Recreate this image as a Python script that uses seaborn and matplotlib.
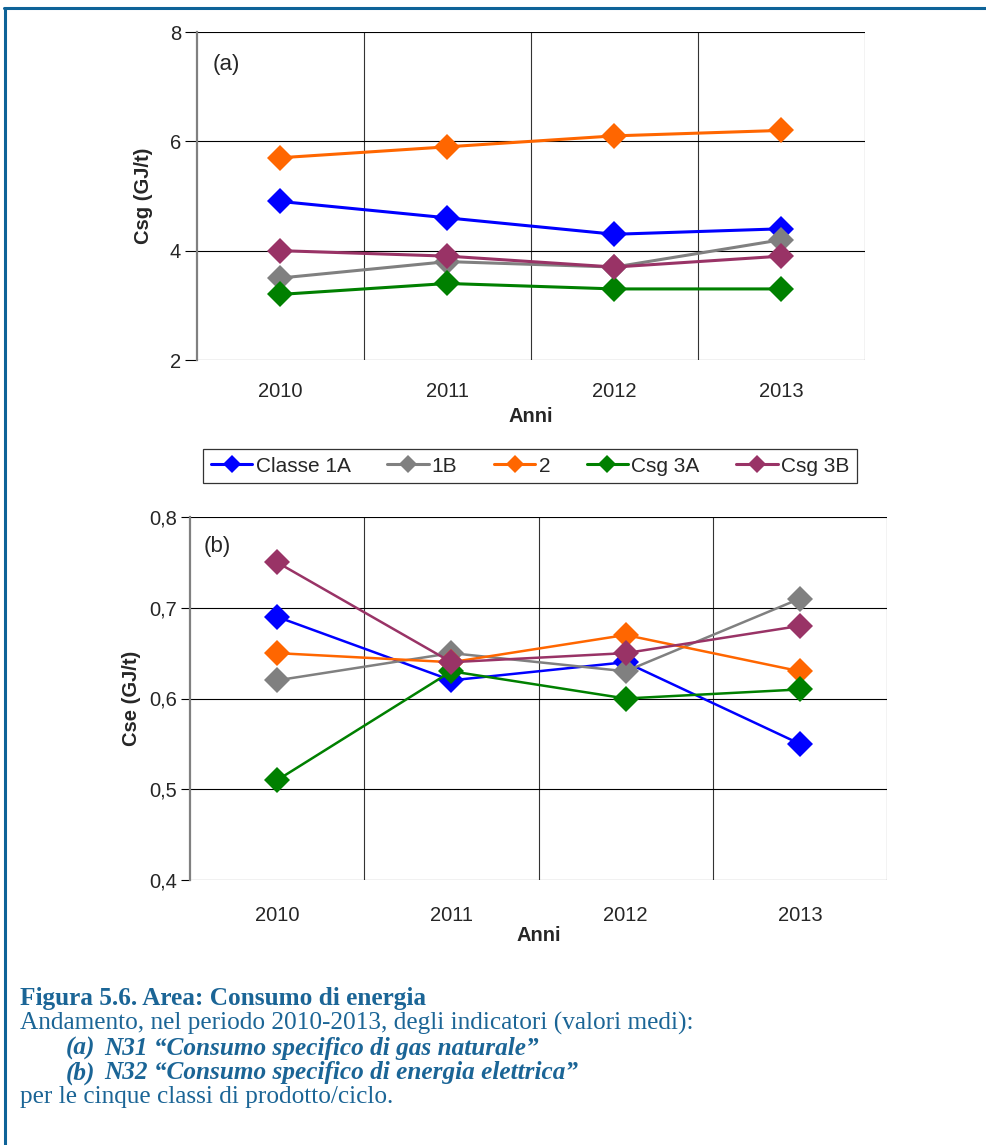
import matplotlib
matplotlib.use("Agg")
import matplotlib.pyplot as plt
from matplotlib.lines import Line2D
from matplotlib.ticker import FixedLocator, FuncFormatter
import seaborn as sns
import pandas as pd

# --- data -------------------------------------------------------------
anni = ["2010", "2011", "2012", "2013"]
classi = ["Classe 1A", "1B", "2", "Csg 3A", "Csg 3B"]

csg_1a = [4.9, 4.6, 4.3, 4.4]
csg_1b = [3.5, 3.8, 3.7, 4.2]
csg_2 = [5.7, 5.9, 6.1, 6.2]
csg_3a = [3.2, 3.4, 3.3, 3.3]
csg_3b = [4.0, 3.9, 3.7, 3.9]

cse_1a = [0.69, 0.62, 0.64, 0.55]
cse_1b = [0.62, 0.65, 0.63, 0.71]
cse_2 = [0.65, 0.64, 0.67, 0.63]
cse_3a = [0.51, 0.63, 0.60, 0.61]
cse_3b = [0.75, 0.64, 0.65, 0.68]

colori = ["#0000FF", "#808080", "#FF6600", "#008000", "#993366"]


def long_table(series, name):
    rows = []
    for classe, vals in zip(classi, series):
        for anno, v in zip(anni, vals):
            rows.append({"Anno": anno, "Classe": classe, name: v})
    return pd.DataFrame(rows)


df_csg = long_table([csg_1a, csg_1b, csg_2, csg_3a, csg_3b], "Csg")
df_cse = long_table([cse_1a, cse_1b, cse_2, cse_3a, cse_3b], "Cse")

sns.set_style("white")
plt.rcParams["font.family"] = ["Liberation Sans", "DejaVu Sans"]

W, H = 987, 1145
fig = plt.figure(figsize=(W / 100, H / 100), dpi=100)


def axes_px(left, top, right, bottom):
    return fig.add_axes([left / W, 1 - bottom / H, (right - left) / W, (bottom - top) / H])


ax1 = axes_px(197, 32, 865, 360)
ax2 = axes_px(190, 517, 887, 880)

palette = dict(zip(classi, colori))
FS = 14.5


def draw(ax, df, ycol, lw, ms):
    sns.lineplot(data=df, x="Anno", y=ycol, hue="Classe", hue_order=classi,
                 palette=palette, marker="D", markersize=ms, linewidth=lw,
                 markeredgewidth=0, sort=False, legend=True, ax=ax)
    for ln in ax.lines:
        ln.set_markeredgecolor(ln.get_color())
        ln.set_clip_on(False)
    ax.set_xlim(-0.5, 3.5)
    ax.xaxis.set_minor_locator(FixedLocator([0.5, 1.5, 2.5, 3.5]))
    ax.grid(True, axis="y", which="major", color="black", linewidth=0.8)
    ax.grid(True, axis="x", which="minor", color="#333333", linewidth=0.8)
    ax.grid(False, axis="x", which="major")
    ax.set_axisbelow(True)
    for s in ["top", "right", "bottom"]:
        ax.spines[s].set_visible(False)
    ax.spines["left"].set_color("#808080")
    ax.spines["left"].set_linewidth(1.6)
    ax.tick_params(axis="y", which="major", left=True, length=8.5, width=0.8,
                   color="black", labelsize=FS, pad=3)
    ax.tick_params(axis="x", which="both", bottom=False, labelsize=FS, pad=12)
    ax.set_xlabel("Anni", fontsize=FS, fontweight="bold", labelpad=6)
    ax.get_legend().remove()


draw(ax1, df_csg, "Csg", 2.2, 13)
ax1.set_ylim(2, 8)
ax1.set_yticks([2, 4, 6, 8])
ax1.set_ylabel("Csg (GJ/t)", fontsize=FS, fontweight="bold", labelpad=12)
ax1.text(0.024, 0.90, "(a)", transform=ax1.transAxes, fontsize=16,
         ha="left", va="center")
ax1.xaxis.labelpad = 5

draw(ax2, df_cse, "Cse", 1.8, 13)
ax2.set_ylim(0.4, 0.8)
ax2.set_yticks([0.4, 0.5, 0.6, 0.7, 0.8])
ax2.yaxis.set_major_formatter(FuncFormatter(lambda v, p: f"{v:.1f}".replace(".", ",")))
ax2.tick_params(axis="y", length=6.5)
ax2.set_ylabel("Cse (GJ/t)", fontsize=FS, fontweight="bold", labelpad=6)
ax2.text(0.02, 0.92, "(b)", transform=ax2.transAxes, fontsize=16,
         ha="left", va="center")
ax2.tick_params(axis="x", pad=15)
ax2.xaxis.labelpad = 1

# shared legend between the two panels
handles = [Line2D([0], [0], color=c, marker="D", markersize=9, linewidth=2.2,
                  markeredgewidth=0) for c in colori]
leg = fig.legend(handles, classi, loc="center", bbox_to_anchor=(530 / W, 1 - 466 / H),
                 ncol=5, fontsize=15, frameon=True, fancybox=False,
                 handlelength=2.0, handletextpad=0.15, columnspacing=1.75,
                 borderpad=0.35, borderaxespad=0)
leg.get_frame().set_edgecolor("black")
leg.get_frame().set_linewidth(0.9)

# page frame
frame_col = "#0E6398"
fig.add_artist(Line2D([4 / W, 1], [1 - 8 / H, 1 - 8 / H], color=frame_col,
                      linewidth=2.2, transform=fig.transFigure))
fig.add_artist(Line2D([5 / W, 5 / W], [1 - 8 / H, 0], color=frame_col,
                      linewidth=2.2, transform=fig.transFigure))

# caption
cap_col = "#1B6596"
serif = ["Liberation Serif", "DejaVu Serif"]
fs = 18.2
fig.text(20 / W, 1 - 998 / H, "Figura 5.6. Area: Consumo di energia", color=cap_col,
         fontsize=fs, fontweight="bold", family=serif, va="center")
fig.text(20 / W, 1 - 1023 / H,
         "Andamento, nel periodo 2010-2013, degli indicatori (valori medi):",
         color=cap_col, fontsize=fs, family=serif, va="center")
fig.text(66 / W, 1 - 1048 / H, "(a)", color=cap_col, fontsize=fs,
         fontweight="bold", fontstyle="italic", family=serif, va="center")
fig.text(104 / W, 1 - 1048 / H, "N31 \u201cConsumo specifico di gas naturale\u201d",
         color=cap_col, fontsize=fs, fontweight="bold", fontstyle="italic",
         family=serif, va="center")
fig.text(66 / W, 1 - 1073 / H, "(b)", color=cap_col, fontsize=fs,
         fontweight="bold", fontstyle="italic", family=serif, va="center")
fig.text(104 / W, 1 - 1073 / H, "N32 \u201cConsumo specifico di energia elettrica\u201d",
         color=cap_col, fontsize=fs, fontweight="bold", fontstyle="italic",
         family=serif, va="center")
fig.text(20 / W, 1 - 1097 / H, "per le cinque classi di prodotto/ciclo.",
         color=cap_col, fontsize=fs, family=serif, va="center")

fig.savefig("out.png", dpi=100)
